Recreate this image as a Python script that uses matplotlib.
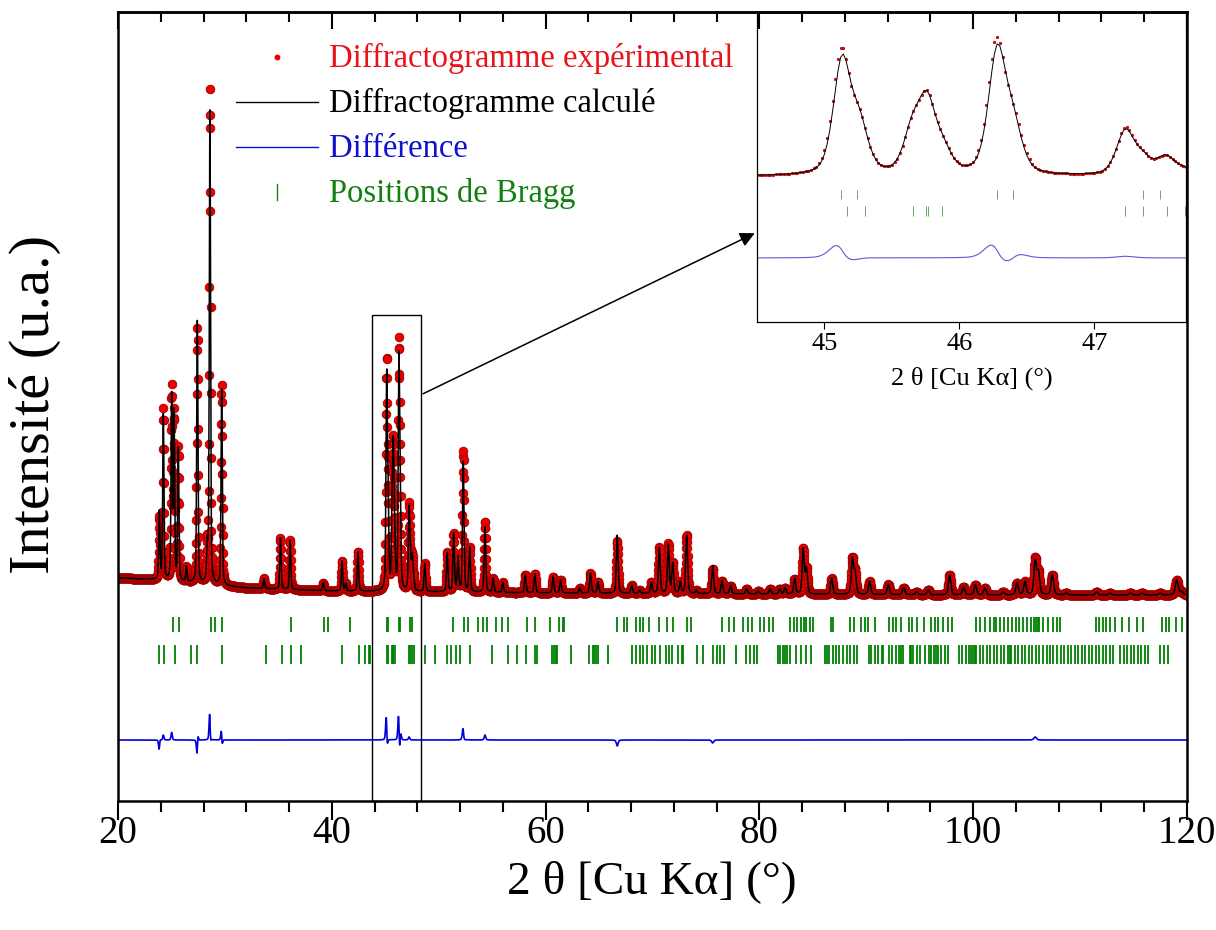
import numpy as np
import matplotlib

matplotlib.use("Agg")
import matplotlib.pyplot as plt
from matplotlib.lines import Line2D
from matplotlib.patches import Rectangle
from matplotlib.ticker import MultipleLocator, FixedLocator

plt.rcParams["font.family"] = ["Liberation Serif", "DejaVu Serif"]

# measured angles (step of the scan)
TWO_THETA = np.arange(20.0, 120.0001, 0.02)

# background points (2theta, counts)
BKG_ANGLE = [20, 24, 28, 32, 40, 50, 60, 80, 100, 120]
BKG_COUNTS = [440, 400, 320, 240, 180, 160, 140, 120, 100, 100]

# calculated reflections: position (deg) and net height (counts)
PEAK_POS = [
    23.87, 24.24, 25.02, 25.24, 25.64, 26.40, 27.42, 28.35, 28.60, 29.70,
    33.66, 35.20, 36.10, 39.20, 40.96, 41.30, 42.45,
    45.13, 45.26, 45.65, 45.76, 45.88, 46.28, 46.40, 47.23, 47.36, 47.53, 47.67,
    48.70, 50.80, 51.40, 51.80, 52.30, 52.90, 54.33, 55.10, 56.00, 58.10,
    59.00, 60.70, 61.40, 63.20, 64.20, 64.90, 66.70, 68.05, 68.80, 69.90,
    70.64, 71.48, 71.90, 72.60, 73.20, 74.10, 75.63, 76.50, 77.30, 78.80,
    79.90, 81.00, 81.90, 82.40, 83.30, 84.10, 84.40, 86.76, 88.70, 88.95,
    90.30, 92.06, 93.50, 94.70, 95.80, 97.80, 99.10, 100.20, 101.10, 102.80,
    104.10, 104.85, 105.80, 106.10, 107.40, 108.70, 111.55, 112.80, 114.70,
    115.80, 117.50, 119.04, 119.50,
]
PEAK_HEIGHT = [
    1370, 3300, 3650, 3300, 2640, 300, 5240, 700, 9460, 3920,
    200, 1020, 980, 150, 600, 150, 800,
    4100, 1700, 1470, 2470, 770, 4400, 1610, 1580, 560, 650, 210,
    560, 780, 1160, 680, 2600, 880, 1320, 280, 200, 360,
    380, 320, 260, 100, 400, 220, 1160, 160, 60, 220,
    920, 980, 600, 220, 1160, 60, 560, 260, 160, 100,
    60, 100, 100, 120, 300, 900, 500, 320, 700, 440,
    260, 200, 140, 60, 100, 400, 160, 200, 140, 60,
    240, 260, 660, 440, 400, 40, 60, 40, 40,
    40, 40, 300, 60,
]

# peak width versus angle
FWHM_ANGLE = [20, 45, 80, 120]
FWHM_DEG = [0.13, 0.15, 0.22, 0.32]

# reflections where the observed pattern differs from the fit
MISFIT_POS = [23.87, 24.24, 25.02, 27.42, 28.60, 29.70, 45.13, 46.28, 46.40,
              47.23, 52.30, 54.33, 66.70, 75.63, 105.80]
MISFIT_DH = [-150, 100, 150, -150, 420, 80, 300, 320, 60, 60, 200, 100, -120, -60, 60]
MISFIT_SHIFT = [0.005, 0.0, 0.0, 0.003, -0.002, -0.003, -0.006, -0.006, 0.006, 0.0,
                -0.003, 0.0, 0.0, 0.0, 0.0]

DIFF_OFFSET = -2800

# Bragg positions, two phases
BRAGG_1 = [
    25.10, 25.72, 28.67, 29.10, 29.69, 36.16, 39.27, 39.66, 41.74, 45.12, 45.24,
    46.28, 46.40, 47.36, 47.49, 51.36, 52.34, 52.74, 53.65, 54.14, 54.54, 55.36,
    55.95, 56.44, 58.24, 58.97, 60.45, 61.27, 61.59, 61.76, 66.68, 67.34, 67.66,
    68.42, 68.81, 69.14, 69.63, 70.59, 71.35, 71.90, 73.22, 73.64, 76.50, 77.15,
    77.65, 78.47, 78.96, 79.35, 80.01, 80.44, 80.93, 81.26, 82.83, 83.23, 83.55,
    83.88, 84.21, 84.37, 84.70, 85.03, 86.67, 86.84, 88.48, 88.81, 89.46, 89.86,
    90.18, 90.77, 92.09, 92.48, 92.74, 93.24, 93.96, 94.32, 94.71, 95.37, 96.03,
    96.42, 96.75, 97.17, 97.67, 97.99, 100.23, 100.62, 101.11, 101.54, 101.93,
    102.10, 102.52, 102.92, 103.25, 103.64, 103.97, 104.30, 104.62, 105.05,
    105.38, 105.71, 105.87, 106.04, 106.20, 106.53, 107.02, 107.45, 107.84,
    108.10, 111.45, 111.78, 112.11, 112.44, 112.83, 113.26, 113.91, 114.57,
    115.32, 115.88, 117.69, 118.01, 118.34, 119.00, 119.49,
]
BRAGG_2 = [
    23.84, 24.34, 25.32, 26.80, 27.39, 29.69, 33.85, 35.33, 36.16, 37.14, 40.98,
    42.55, 43.14, 43.48, 43.61, 45.17, 45.30, 45.66, 45.75, 45.77, 45.87, 47.23,
    47.36, 47.54, 47.67, 48.73, 49.62, 50.76, 51.16, 51.58, 52.01, 52.89, 55.03,
    56.50, 57.32, 58.15, 58.97, 59.23, 60.61, 60.78, 60.94, 61.10, 62.41, 64.06,
    64.39, 64.55, 64.71, 64.87, 65.86, 68.09, 68.49, 68.81, 69.14, 69.47, 69.93,
    70.26, 70.69, 71.25, 71.57, 71.80, 72.40, 72.72, 72.89, 74.20, 74.69, 75.68,
    76.01, 76.33, 76.66, 77.81, 78.79, 79.12, 79.45, 79.78, 81.75, 81.91, 82.24,
    82.41, 82.57, 82.90, 83.39, 83.88, 84.37, 84.87, 86.18, 86.34, 86.51, 86.84,
    87.16, 87.49, 87.82, 88.15, 88.48, 88.81, 89.13, 90.28, 90.45, 90.77, 91.10,
    91.43, 91.59, 92.09, 92.41, 92.74, 93.07, 93.24, 93.40, 94.06, 94.22, 94.38,
    94.71, 95.04, 95.53, 95.86, 96.03, 96.35, 96.52, 96.68, 97.01, 97.34, 97.67,
    98.65, 98.98, 99.31, 99.64, 99.80, 99.96, 100.13, 100.29, 100.62, 100.95,
    101.28, 101.61, 101.93, 102.26, 102.59, 102.92, 103.25, 103.41, 103.57,
    103.90, 104.23, 104.56, 104.89, 105.21, 105.54, 105.87, 106.20, 106.53,
    106.86, 107.18, 107.51, 107.84, 108.17, 108.50, 108.83, 109.15, 109.48,
    109.81, 110.14, 110.47, 110.80, 111.12, 111.45, 111.78, 112.11, 112.44,
    112.76, 113.09, 113.75, 114.08, 114.40, 114.73, 115.06, 115.39, 115.72,
    116.04, 116.37, 117.52, 117.85, 118.18,
]

W, H = 1216, 930


def fx(px):
    return px / W


def fy(py):
    return 1 - py / H


def px_box(left, top, right, bottom):
    return [left / W, 1 - bottom / H, (right - left) / W, (bottom - top) / H]


def pseudo_voigt(x, pos, height, fwhm, eta=0.4):
    d = (x - pos) / (fwhm / 2)
    return height * (eta / (1 + d ** 2) + (1 - eta) * np.exp(-np.log(2) * d ** 2))


def profile(x, positions, heights):
    y = np.interp(x, BKG_ANGLE, BKG_COUNTS).astype(float)
    for p, h in zip(positions, heights):
        y += pseudo_voigt(x, p, h, np.interp(p, FWHM_ANGLE, FWHM_DEG))
    return y


obs_pos = list(PEAK_POS)
obs_h = list(PEAK_HEIGHT)
for p, dh, sh in zip(MISFIT_POS, MISFIT_DH, MISFIT_SHIFT):
    i = PEAK_POS.index(p)
    obs_h[i] += dh
    obs_pos[i] += sh

calc = profile(TWO_THETA, PEAK_POS, PEAK_HEIGHT)
obs = profile(TWO_THETA, obs_pos, obs_h)
diff = obs - calc + DIFF_OFFSET

fig = plt.figure(figsize=(W / 100, H / 100), dpi=100)
ax = fig.add_axes(px_box(118, 12, 1187, 801))
axin = fig.add_axes(px_box(757, 12, 1186, 322))
ax.set_zorder(2)
axin.set_zorder(1)
ax.patch.set_visible(False)

# main pattern
ax.plot(TWO_THETA, obs, ls="none", marker="o", ms=6.2, mfc="#ee0000",
        mec="#a00000", mew=0.6)
ax.plot(TWO_THETA, calc, color="black", lw=1.1)
ax.plot(TWO_THETA, diff, color="#0000dd", lw=1.2)
ax.vlines(BRAGG_1, -640, -330, color="#008000", lw=1.3)
ax.vlines(BRAGG_2, -1280, -900, color="#008000", lw=1.3)

ymin, ymax = -4020, 11760
ax.set_xlim(20, 120)
ax.set_ylim(ymin, ymax)
ax.set_yticks([])
ax.xaxis.set_major_locator(MultipleLocator(20))
ax.xaxis.set_minor_locator(MultipleLocator(4))
ax.tick_params(axis="x", which="major", direction="out", length=14, width=1.5,
               labelsize=28, pad=-4)
ax.tick_params(axis="x", which="minor", direction="out", length=8, width=1.5)
for s in ax.spines.values():
    s.set_linewidth(1.8)

top = ax.secondary_xaxis("top")
top.xaxis.set_major_locator(MultipleLocator(20))
top.xaxis.set_minor_locator(MultipleLocator(4))
top.tick_params(which="major", direction="in", length=12, width=1.5, labeltop=False)
top.tick_params(which="minor", direction="in", length=7, width=1.5)
top.spines["top"].set_linewidth(1.8)

# zoom box and arrow
ax.add_patch(Rectangle((43.73, ymin), 48.3 - 43.73, 5700 - ymin, fill=False,
                       ec="black", lw=1.0, clip_on=False))
ax.annotate("", xy=(79.8, 7360), xytext=(48.3, 4100),
            arrowprops=dict(arrowstyle="-|>", color="black", lw=1.1,
                            mutation_scale=22),
            annotation_clip=False)

# inset
axin.plot(TWO_THETA, obs, ls="none", marker="o", ms=2.0, mfc="#d00000",
          mec="#a00000", mew=0.3)
axin.plot(TWO_THETA, calc, color="black", lw=0.7)
axin.plot(TWO_THETA, diff, color="#5a5ad6", lw=0.8)
axin.vlines(BRAGG_1, -640, -330, color="#6aa56a", lw=0.7)
axin.vlines(BRAGG_2, -1280, -900, color="#6aa56a", lw=0.7)
axin.set_xlim(44.5, 47.68)
axin.set_ylim(-5130, 6146)
axin.set_yticks([])
axin.xaxis.set_major_locator(FixedLocator([45, 46, 47]))
axin.tick_params(axis="x", direction="out", length=5, width=0.8, labelsize=19, pad=3)
for s in axin.spines.values():
    s.set_linewidth(0.9)
axin.set_xlabel("2 θ [Cu Kα] (°)", fontsize=19, labelpad=8)

# axis labels
fig.text(fx(652), fy(882), "2 θ [Cu Kα] (°)", fontsize=34, ha="center", va="center")
fig.text(fx(35), fy(404), "Intensité (u.a.)", fontsize=42, rotation=90,
         ha="center", va="center")

# legend
rows = [57, 102, 147, 192]
fig.add_artist(Line2D([fx(277)], [fy(rows[0])], marker="o", ms=3.2, color="#ee0000",
                      ls="none", transform=fig.transFigure))
fig.add_artist(Line2D([fx(236), fx(318)], [fy(rows[1])] * 2, color="black", lw=1.0,
                      transform=fig.transFigure))
fig.add_artist(Line2D([fx(236), fx(318)], [fy(rows[2])] * 2, color="#1010d0", lw=1.0,
                      transform=fig.transFigure))
fig.add_artist(Line2D([fx(277)] * 2, [fy(rows[3] - 8), fy(rows[3] + 8)],
                      color="#108010", lw=1.0, transform=fig.transFigure))
labels = ["Diffractogramme expérimental", "Diffractogramme calculé", "Différence",
          "Positions de Bragg"]
colors = ["#e8141b", "black", "#1010d0", "#118011"]
for r, lab, c in zip(rows, labels, colors):
    fig.text(fx(329), fy(r + 10), lab, fontsize=23.5, color=c, ha="left",
             va="baseline")

fig.savefig("out.png", dpi=100)
plt.close(fig)
